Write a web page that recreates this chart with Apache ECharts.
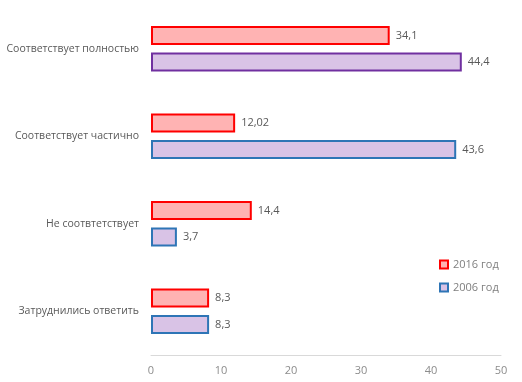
<!DOCTYPE html>
<html><head><meta charset="utf-8">
<script src="https://cdn.jsdelivr.net/npm/echarts@6/dist/echarts.min.js"></script>
<style>html,body{margin:0;padding:0;background:#fff}#c{width:522px;height:382px}</style>
</head><body><div id="c"></div>
<script>
const categories = ['Соответствует полностью', 'Соответствует частично', 'Не соотвтетствует', 'Затруднились ответить'];
const values2016 = [34.1, 12.02, 14.4, 8.3];
const values2006 = [44.4, 43.6, 3.7, 8.3];
const border2006 = ['#7030A0', '#2E75B6', '#2E75B6', '#2E75B6'];
const xTicks = [0, 10, 20, 30, 40, 50];

const font = '"Open Sans", sans-serif';
const fmt = p => String(p.value).replace('.', ',');
const chart = echarts.init(document.getElementById('c'));
chart.setOption({
  animation: false,
  textStyle: { fontFamily: font },
  grid: { left: 151, right: 21, top: 5, bottom: 27, containLabel: false, outerBoundsMode: 'none' },
  legend: {
    orient: 'vertical', left: 434, top: 254, itemWidth: 8, itemHeight: 8, itemGap: 12, icon: 'rect',
    textStyle: { color: '#7f7f7f', fontSize: 11, fontFamily: font },
    data: ['2016 год', '2006 год']
  },
  xAxis: {
    type: 'value', min: xTicks[0], max: xTicks[xTicks.length - 1], interval: 10,
    splitLine: { show: false },
    axisLine: { show: true, lineStyle: { color: '#D9D9D9' } },
    axisTick: { show: false },
    axisLabel: { color: '#8c8c8c', fontSize: 11, margin: 10, fontFamily: font }
  },
  yAxis: {
    type: 'category', data: categories, inverse: true,
    axisLine: { show: false }, axisTick: { show: false },
    axisLabel: { color: '#595959', fontSize: 10.5, margin: 12, fontFamily: font }
  },
  series: [
    {
      name: '2016 год', type: 'bar', data: values2016, barWidth: 19, barGap: '40%',
      itemStyle: { color: '#FFB3B3', borderColor: '#FF0000', borderWidth: 2 },
      label: { show: true, position: 'right', distance: 6, color: '#595959', fontSize: 11, fontFamily: font, formatter: fmt }
    },
    {
      name: '2006 год', type: 'bar', barWidth: 19,
      data: values2006.map((v, i) => ({ value: v, itemStyle: { borderColor: border2006[i] } })),
      itemStyle: { color: '#D9C3E6', borderColor: '#2E75B6', borderWidth: 2 },
      label: { show: true, position: 'right', distance: 6, color: '#595959', fontSize: 11, fontFamily: font, formatter: fmt }
    }
  ]
});
</script></body></html>
